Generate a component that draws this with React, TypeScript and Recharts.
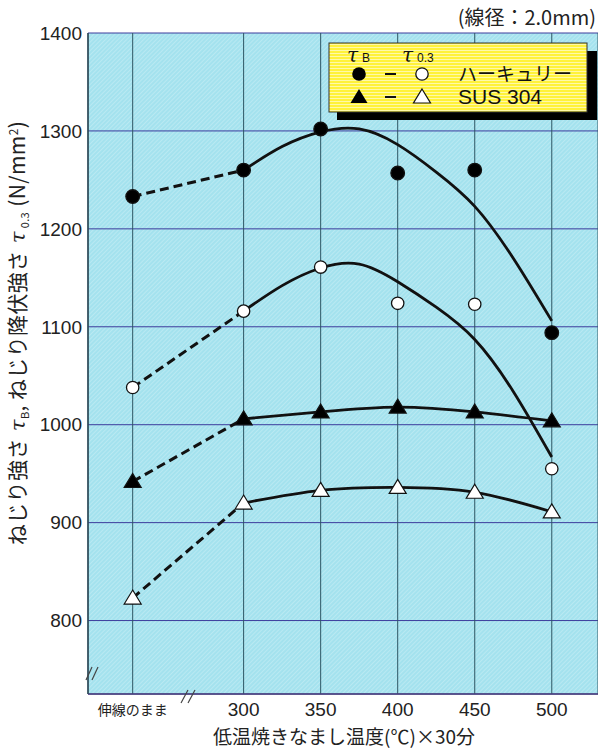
import { ComposedChart, Line, XAxis, YAxis, CartesianGrid } from "recharts";

// x positions are temperatures; the as-drawn wire sits left of the axis break
const TEMP_VALUES = [228, 300, 350, 400, 450, 500];
const TEMP_LABELS = ["伸線のまま", "300", "350", "400", "450", "500"];
const Y_TICKS = [800, 900, 1000, 1100, 1200, 1300, 1400];

// measured points (N/mm²)
const HERC_TB = [1233, 1260, 1302, 1257, 1260, 1094];
const HERC_T03 = [1038, 1116, 1161, 1124, 1123, 955];
const SUS_TB = [942, 1006, 1013, 1018, 1013, 1004];
const SUS_T03 = [823, 920, 933, 936, 931, 911];

// hand-drawn trend curves for Hercules
const FIT_TEMPS = [300, 325, 350, 375, 400, 425, 450, 475, 500];
const HERC_TB_FIT = [1260, 1284, 1299, 1302, 1286, 1258, 1223, 1170, 1106];
const HERC_T03_FIT = [1116, 1142, 1160, 1164, 1146, 1120, 1087, 1034, 967];

const JP = "'Noto Sans CJK JP', sans-serif";
const NUM = "'Liberation Sans', Arial, sans-serif";

const rows = (xs: number[], ys: number[]) => xs.map((x, i) => ({ x, y: ys[i] }));

const dashedPart = (ys: number[]) => rows(TEMP_VALUES.slice(0, 2), ys.slice(0, 2));
const solidPart = (ys: number[]) => rows(TEMP_VALUES.slice(1), ys.slice(1));

function circleDot(fill: string) {
  return (p: any) => (
    <circle
      key={`c-${fill}-${p.index}`}
      cx={p.cx}
      cy={p.cy}
      r={fill === "#000" ? 6.8 : 6.2}
      fill={fill}
      stroke="#111"
      strokeWidth={1.3}
    />
  );
}

function triPoints(cx: number, cy: number) {
  return `${cx},${cy - 8} ${cx + 8.5},${cy + 6} ${cx - 8.5},${cy + 6}`;
}

function triangleDot(fill: string) {
  return (p: any) => (
    <polygon
      key={`t-${fill}-${p.index}`}
      points={triPoints(p.cx, p.cy)}
      fill={fill}
      stroke="#111"
      strokeWidth={1.2}
      strokeLinejoin="miter"
    />
  );
}

function XTick({ x, y, payload }: any) {
  const i = TEMP_VALUES.indexOf(payload.value);
  const label = TEMP_LABELS[i];
  if (i === 0) {
    return (
      <text x={x} y={y + 21} textAnchor="middle" fontSize={14} fontFamily={JP} fill="#222">
        {label}
      </text>
    );
  }
  return (
    <text x={x} y={y + 22} textAnchor="middle" fontSize={19} fontFamily={NUM} fill="#222">
      {label}
    </text>
  );
}

export default function App() {
  return (
    <div style={{ position: "absolute", left: 0, top: 0, width: 598, height: 749, background: "#fff" }}>
      <ComposedChart width={598} height={749} margin={{ top: 33, right: 0, bottom: 25, left: 28 }}>
        <defs>
          <pattern id="hatch" width="3" height="3" patternUnits="userSpaceOnUse" patternTransform="rotate(45)">
            <rect width="3" height="3" fill="#a4e2ee" />
            <line x1="0" y1="0" x2="0" y2="3" stroke="#c8eff6" strokeWidth="1.2" />
          </pattern>
        </defs>
        <CartesianGrid
          vertical={false}
          fill="url(#hatch)"
          fillOpacity={1}
          stroke="#3c3c9c"
          strokeWidth={1}
        />
        <CartesianGrid horizontal={false} stroke="#2e5664" strokeWidth={1} />
        <XAxis
          dataKey="x"
          type="number"
          domain={[199, 530]}
          allowDataOverflow
          ticks={TEMP_VALUES}
          tick={<XTick />}
          tickSize={0}
          tickMargin={0}
          height={30}
          axisLine={{ stroke: "#4a3f7a", strokeWidth: 1.5 }}
        />
        <YAxis
          type="number"
          domain={[725, 1400]}
          allowDataOverflow
          ticks={Y_TICKS}
          width={60}
          tickSize={0}
          tickMargin={6}
          tick={{ fill: "#222", fontSize: 19, fontFamily: NUM }}
          axisLine={{ stroke: "#2e4a58", strokeWidth: 1.5 }}
        />

        {/* dashed links from the as-drawn wire */}
        {[HERC_TB, HERC_T03, SUS_TB, SUS_T03].map((ys, k) => (
          <Line
            key={`d${k}`}
            data={dashedPart(ys)}
            dataKey="y"
            stroke="#111"
            strokeWidth={3}
            strokeDasharray="9 5"
            dot={false}
            activeDot={false}
            isAnimationActive={false}
          />
        ))}

        {/* solid trend curves */}
        <Line data={rows(FIT_TEMPS, HERC_TB_FIT)} dataKey="y" type="natural" stroke="#111" strokeWidth={2.8} dot={false} activeDot={false} isAnimationActive={false} />
        <Line data={rows(FIT_TEMPS, HERC_T03_FIT)} dataKey="y" type="natural" stroke="#111" strokeWidth={2.8} dot={false} activeDot={false} isAnimationActive={false} />
        <Line data={solidPart(SUS_TB)} dataKey="y" type="natural" stroke="#111" strokeWidth={2.8} dot={false} activeDot={false} isAnimationActive={false} />
        <Line data={solidPart(SUS_T03)} dataKey="y" type="natural" stroke="#111" strokeWidth={2.8} dot={false} activeDot={false} isAnimationActive={false} />

        {/* measured points */}
        <Line data={rows(TEMP_VALUES, HERC_TB)} dataKey="y" stroke="none" dot={circleDot("#000")} activeDot={false} isAnimationActive={false} />
        <Line data={rows(TEMP_VALUES, HERC_T03)} dataKey="y" stroke="none" dot={circleDot("#fff")} activeDot={false} isAnimationActive={false} />
        <Line data={rows(TEMP_VALUES, SUS_TB)} dataKey="y" stroke="none" dot={triangleDot("#000")} activeDot={false} isAnimationActive={false} />
        <Line data={rows(TEMP_VALUES, SUS_T03)} dataKey="y" stroke="none" dot={triangleDot("#fff")} activeDot={false} isAnimationActive={false} />
      </ComposedChart>

      {/* titles, legend and axis breaks */}
      <svg width={598} height={749} style={{ position: "absolute", left: 0, top: 0, pointerEvents: "none" }}>
        <defs>
          <pattern id="stripes" width="4" height="3" patternUnits="userSpaceOnUse">
            <rect width="4" height="3" fill="#fff23a" />
            <rect y="2" width="4" height="1" fill="#fff9a8" />
          </pattern>
        </defs>

        <text x={596} y={25} textAnchor="end" fontSize={20} fontFamily={JP} fill="#222">
          (線径：2.0mm)
        </text>

        <text
          transform="translate(25,333) rotate(-90)"
          textAnchor="middle"
          fontSize={21}
          letterSpacing={0.4}
          fontFamily={JP}
          fill="#222"
        >
          ねじり強さ
          <tspan fontStyle="italic" fontFamily="'DejaVu Serif', serif"> τ</tspan>
          <tspan fontSize={11} dy={4}>B</tspan>
          <tspan dy={-4}>, ねじり降伏強さ</tspan>
          <tspan fontStyle="italic" fontFamily="'DejaVu Serif', serif"> τ</tspan>
          <tspan fontSize={11} dy={4}> 0.3</tspan>
          <tspan dy={-4}> (N/mm</tspan>
          <tspan fontSize={12} dy={-7}>2</tspan>
          <tspan dy={7}>)</tspan>
        </text>

        <text x={344} y={744} textAnchor="middle" fontSize={19} fontFamily={JP} fill="#222">
          低温焼きなまし温度(℃)×30分
        </text>

        {/* legend */}
        <rect x={337} y={51} width={260} height={69} fill="#000" />
        <rect x={329} y={43} width={258} height={69} fill="url(#stripes)" stroke="#333" strokeWidth={1} />
        <text x={347} y={62} fontSize={20} fontStyle="italic" fontFamily="'DejaVu Serif', serif" fill="#111">τ</text>
        <text x={362} y={62} fontSize={12} fontFamily={NUM} fill="#111">B</text>
        <text x={402} y={62} fontSize={20} fontStyle="italic" fontFamily="'DejaVu Serif', serif" fill="#111">τ</text>
        <text x={417} y={62} fontSize={12} fontFamily={NUM} fill="#111">0.3</text>

        <circle cx={359} cy={74} r={6.8} fill="#000" />
        <line x1={385} y1={74} x2={396} y2={74} stroke="#111" strokeWidth={2} />
        <circle cx={422} cy={74} r={6.2} fill="#fff" stroke="#111" strokeWidth={1.3} />
        <text x={458} y={81} fontSize={19} fontFamily={JP} fill="#111">ハーキュリー</text>

        <polygon points={triPoints(359, 97)} fill="#000" />
        <line x1={385} y1={97} x2={396} y2={97} stroke="#111" strokeWidth={2} />
        <polygon points={triPoints(422, 97)} fill="#fff" stroke="#111" strokeWidth={1.2} />
        <text x={458} y={104} fontSize={21} fontFamily={NUM} fill="#111">SUS 304</text>

        {/* axis break marks */}
        <line x1={86} y1={680} x2={92} y2={667} stroke="#444" strokeWidth={1.2} />
        <line x1={92} y1={680} x2={98} y2={667} stroke="#444" strokeWidth={1.2} />
        <line x1={181} y1={703} x2={188} y2={690} stroke="#444" strokeWidth={1.2} />
        <line x1={188} y1={703} x2={195} y2={690} stroke="#444" strokeWidth={1.2} />
      </svg>
    </div>
  );
}
